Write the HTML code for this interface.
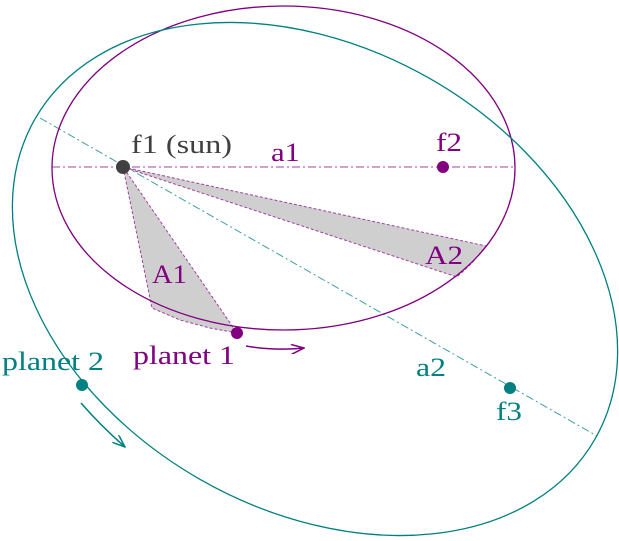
<!DOCTYPE html>
<html><head><style>html,body{margin:0;padding:0;background:#fff;overflow:hidden;width:619px;height:541px}svg{display:block;position:absolute;left:0;top:0}text{font-family:"Liberation Serif","DejaVu Serif","Times New Roman",serif;font-size:26px}</style></head><body>
<svg width="619" height="541" viewBox="0 0 619 541">
<defs>
<marker id="ap" markerWidth="14" markerHeight="10" refX="13" refY="5" orient="auto" markerUnits="userSpaceOnUse"><path d="M0,0 L13,5 L0,10" fill="none" stroke="#800080" stroke-width="1.5"/></marker>
<marker id="at" markerWidth="14" markerHeight="10" refX="13" refY="5" orient="auto" markerUnits="userSpaceOnUse"><path d="M0,0 L13,5 L0,10" fill="none" stroke="#008080" stroke-width="1.5"/></marker>
</defs>
<polygon points="123,167 152,308 180,320 210,328 237,333" fill="#cfcfcf" stroke="#a040a0" stroke-width="1" stroke-dasharray="3,2"/>
<polygon points="123,167 486,246 472,263 457,277" fill="#cfcfcf" stroke="#a040a0" stroke-width="1" stroke-dasharray="3,2"/>
<line x1="52" y1="167" x2="515" y2="167" stroke="#a040a0" stroke-width="1" stroke-dasharray="8,3,2,3"/>
<line x1="40" y1="118" x2="597" y2="436" stroke="#40a0a0" stroke-width="1" stroke-dasharray="8,3,2,3"/>
<ellipse cx="283.5" cy="168" rx="231.5" ry="162" fill="none" stroke="#800080" stroke-width="1.3"/>
<ellipse cx="315" cy="279" rx="322.5" ry="231" transform="rotate(29.7 315 279)" fill="none" stroke="#008080" stroke-width="1.3"/>
<circle cx="123" cy="167" r="7" fill="#404040"/>
<circle cx="443" cy="167" r="6" fill="#800080"/>
<circle cx="237" cy="333" r="6" fill="#800080"/>
<circle cx="82" cy="385" r="6" fill="#008080"/>
<circle cx="510" cy="388" r="6" fill="#008080"/>
<path d="M246,346 Q275,351 304,348" fill="none" stroke="#800080" stroke-width="1.5" marker-end="url(#ap)"/>
<path d="M81,403 Q100,425 125,447" fill="none" stroke="#008080" stroke-width="1.5" marker-end="url(#at)"/>
<text x="131" y="153" fill="#404040" textLength="101" lengthAdjust="spacingAndGlyphs">f1 (sun)</text>
<text x="271" y="161" fill="#800080" textLength="29" lengthAdjust="spacingAndGlyphs">a1</text>
<text x="436" y="151" fill="#800080" textLength="26" lengthAdjust="spacingAndGlyphs">f2</text>
<text x="152" y="283" fill="#800080" textLength="35" lengthAdjust="spacingAndGlyphs">A1</text>
<text x="425" y="264" fill="#800080" textLength="38" lengthAdjust="spacingAndGlyphs">A2</text>
<text x="133" y="364" fill="#800080" textLength="102" lengthAdjust="spacingAndGlyphs">planet 1</text>
<text x="2" y="370" fill="#008080" textLength="102" lengthAdjust="spacingAndGlyphs">planet 2</text>
<text x="416" y="376" fill="#008080" textLength="30" lengthAdjust="spacingAndGlyphs">a2</text>
<text x="496" y="420" fill="#008080" textLength="26" lengthAdjust="spacingAndGlyphs">f3</text>
</svg>
</body></html>
